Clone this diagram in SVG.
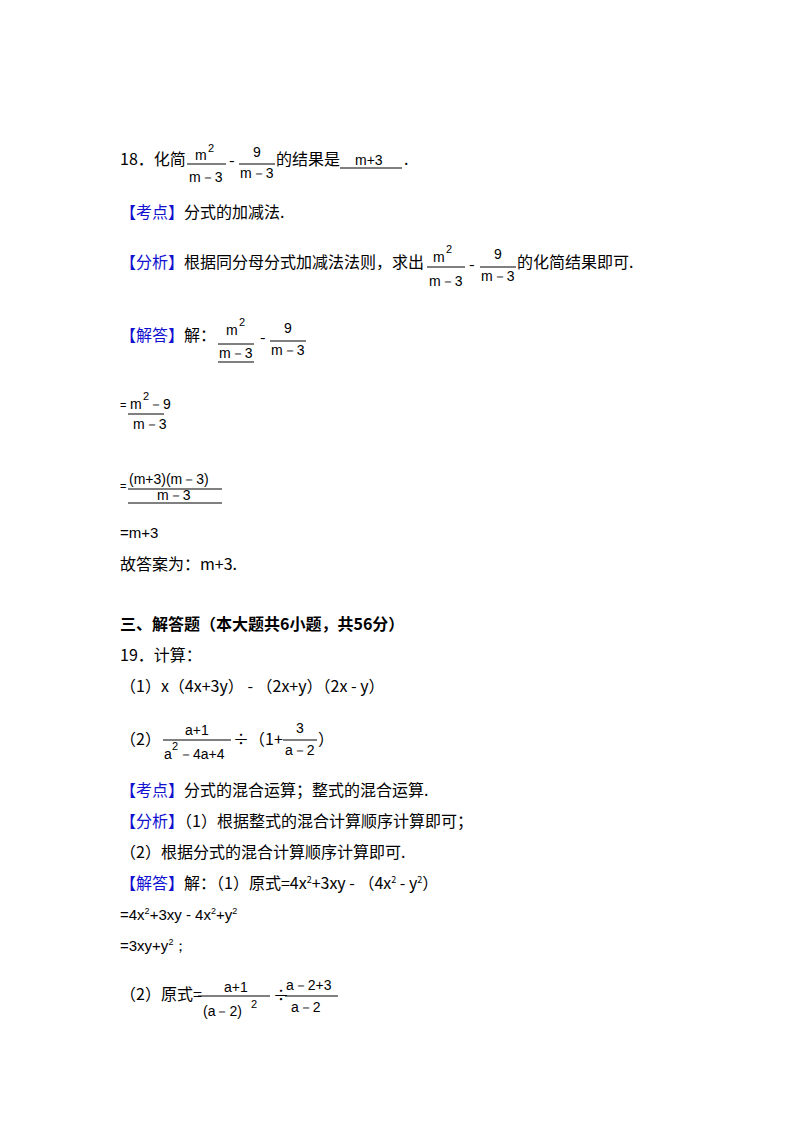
<svg xmlns="http://www.w3.org/2000/svg" width="800" height="1132" viewBox="0 0 800 1132">
<style>
text{font-family:"Noto Sans CJK SC","Liberation Sans",sans-serif;font-size:16px;fill:#000}
.b{fill:#1010d0}
.m{font-family:"Liberation Sans",sans-serif;font-size:14px}
.s{font-family:"Liberation Sans",sans-serif;font-size:11px}
.l{font-family:"Liberation Sans",sans-serif;font-size:15px}
.bold{font-weight:bold}
line{stroke:#000;stroke-width:1}
</style>
<rect width="800" height="1132" fill="#fff"/>
<text x="120" y="165">18．化简</text>
<text class="m" x="195" y="160">m</text><text class="s" x="208" y="152">2</text>
<line x1="187" y1="164" x2="226" y2="164"/>
<text class="m" x="189" y="182">m－3</text>
<text x="229" y="166">-</text>
<text class="m" x="253" y="157">9</text>
<line x1="239" y1="164" x2="275" y2="164"/>
<text class="m" x="240" y="178">m－3</text>
<text x="276" y="165">的结果是</text>
<line x1="340" y1="168" x2="402" y2="168"/>
<text x="355" y="165" class="m">m+3</text>
<text x="404" y="165">.</text>
<text x="120" y="218"><tspan class="b">【考点】</tspan>分式的加减法.</text>
<text x="120" y="268"><tspan class="b">【分析】</tspan>根据同分母分式加减法法则，求出</text>
<text class="m" x="433" y="262">m</text><text class="s" x="446" y="253">2</text>
<line x1="427" y1="267" x2="465" y2="267"/>
<text class="m" x="429" y="286">m－3</text>
<text x="469" y="270">-</text>
<text class="m" x="494" y="259">9</text>
<line x1="480" y1="267" x2="516" y2="267"/>
<text class="m" x="481" y="281">m－3</text>
<text x="517" y="268">的化简结果即可.</text>
<text x="120" y="341"><tspan class="b">【解答】</tspan>解：</text>
<text class="m" x="226" y="335">m</text><text class="s" x="239" y="326">2</text>
<line x1="218" y1="344" x2="254" y2="344"/>
<text class="m" x="219" y="358">m－3</text>
<line x1="218" y1="362" x2="254" y2="362"/>
<text x="260" y="343">-</text>
<text class="m" x="284" y="333">9</text>
<line x1="270" y1="341" x2="306" y2="341"/>
<text class="m" x="271" y="355">m－3</text>
<text x="120" y="409" style="font-family:'Liberation Sans';font-size:11px">=</text>
<text class="m" x="130" y="409">m</text><text class="s" x="143" y="400">2</text><text class="m" x="149" y="409">－9</text>
<line x1="128" y1="414" x2="164" y2="414"/>
<text class="m" x="133" y="429">m－3</text>
<text x="120" y="490" style="font-family:'Liberation Sans';font-size:11px">=</text>
<text class="m" x="129" y="484">(m+3)(m－3)</text>
<line x1="128" y1="489" x2="222" y2="489"/>
<text class="m" x="157" y="500">m－3</text>
<line x1="128" y1="503" x2="222" y2="503"/>
<text x="120" y="538" class="l">=m+3</text>
<text x="120" y="570">故答案为：m+3.</text>
<text x="120" y="630" class="bold">三、解答题（本大题共6小题，共56分）</text>
<text x="120" y="661">19．计算：</text>
<text x="120" y="692">（1）x（4x+3y） - （2x+y）（2x - y）</text>
<text x="120" y="745">（2）</text>
<text class="m" x="185" y="735">a+1</text>
<line x1="163" y1="740" x2="231" y2="740"/>
<text class="m" x="164" y="759">a</text><text class="s" x="172" y="750">2</text><text class="m" x="179" y="759">－4a+4</text>
<text x="233" y="745">÷（1+</text>
<text class="m" x="296" y="733">3</text>
<line x1="283" y1="740" x2="317" y2="740"/>
<text class="m" x="285" y="755">a－2</text>
<text x="318" y="745">）</text>
<text x="120" y="796"><tspan class="b">【考点】</tspan>分式的混合运算；整式的混合运算.</text>
<text x="120" y="827"><tspan class="b">【分析】</tspan>（1）根据整式的混合计算顺序计算即可；</text>
<text x="120" y="858">（2）根据分式的混合计算顺序计算即可.</text>
<text x="120" y="889"><tspan class="b">【解答】</tspan>解：（1）原式=4x<tspan dy="-6" font-size="9">2</tspan><tspan dy="6">+3xy - （4x</tspan><tspan dy="-6" font-size="9">2</tspan><tspan dy="6"> - y</tspan><tspan dy="-6" font-size="9">2</tspan><tspan dy="6">）</tspan></text>
<text x="120" y="920" class="l">=4x<tspan dy="-6" font-size="9">2</tspan><tspan dy="6">+3xy - 4x</tspan><tspan dy="-6" font-size="9">2</tspan><tspan dy="6">+y</tspan><tspan dy="-6" font-size="9">2</tspan></text>
<text x="120" y="951" class="l">=3xy+y<tspan dy="-6" font-size="9">2</tspan><tspan dy="6">；</tspan></text>
<text x="120" y="1000">（2）原式=</text>
<text class="m" x="224" y="992">a+1</text>
<line x1="198" y1="996" x2="270" y2="996"/>
<text class="m" x="203" y="1016">(a－2)</text><text class="s" x="251" y="1008">2</text>
<text x="273" y="1001">÷</text>
<text class="m" x="286" y="990">a－2+3</text>
<line x1="285" y1="996" x2="338" y2="996"/>
<text class="m" x="291" y="1012">a－2</text>
</svg>
